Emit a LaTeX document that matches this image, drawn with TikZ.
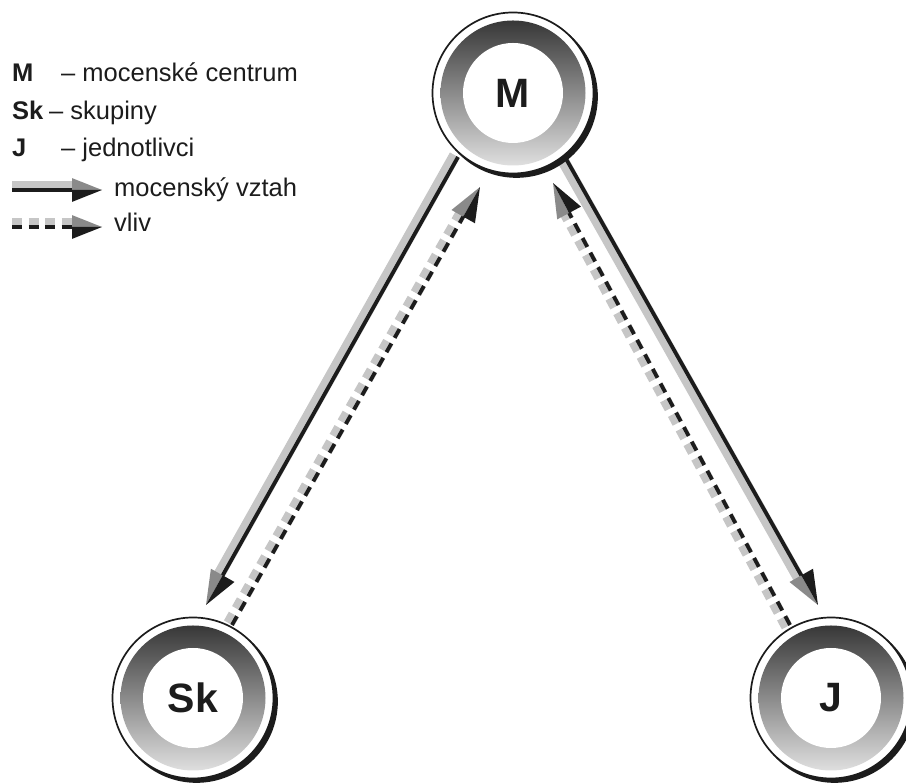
\documentclass[tikz,border=0pt]{standalone}
\usepackage{fontspec}
\setmainfont{Liberation Sans}
\usetikzlibrary{calc,shadows}
\definecolor{band}{HTML}{C6C6C6}
\definecolor{headgray}{HTML}{8A8A8A}
\definecolor{ink}{HTML}{1C1C1C}
\definecolor{ringtop}{HTML}{2E2E2E}
\definecolor{ringbot}{HTML}{E8E8E8}
\pgfdeclarelayer{bg}
\pgfsetlayers{bg,main}
% #1 from, #2 tip, #3 side of grey band (1 or -1), #4 dash style, #5 head scale
\newcommand\relarrow[5]{%
  \pgfpointdiff{\pgfpointanchor{#1}{center}}{\pgfpointanchor{#2}{center}}%
  \pgfgetlastxy\reldx\reldy
  \pgfmathsetmacro\relang{atan2(\reldy,\reldx)}%
  \pgfmathsetmacro\rellen{veclen(\reldx,\reldy)}%
  \pgfmathsetmacro\relhl{34*#5}%
  \pgfmathsetmacro\relhw{13.5*#5}%
  \begin{scope}[shift={(#1)},rotate=\relang]
    \draw[band, line width=11.5pt, #4] (0,#3*3.5) -- (\rellen-\relhl+1,#3*3.5);
    \draw[ink, line width=3.8pt, #4] (0,0) -- (\rellen-\relhl+2,0);
    \fill[headgray] (\rellen,0) -- (\rellen-\relhl,#3*\relhw) -- (\rellen-\relhl,0) -- cycle;
    \fill[ink] (\rellen,0) -- (\rellen-\relhl,-#3*\relhw) -- (\rellen-\relhl,0) -- cycle;
  \end{scope}%
}
\tikzset{
  hub/.style={circle, minimum size=161pt, inner sep=0pt, fill=white, draw=ink, line width=1.7pt,
    general shadow={fill=ink, draw=ink, shadow xshift=3.5pt, shadow yshift=-3.5pt},
    path picture={\shade[top color=ringtop, bottom color=ringbot] (path picture bounding box.center) circle (72.5pt);
      \fill[white] (path picture bounding box.center) circle (50pt);},
    font=\bfseries\fontsize{41}{41}\selectfont, text=ink},
  legtext/.style={anchor=base west, inner sep=0pt, font=\fontsize{25.5}{25.5}\selectfont, text=ink},
  dashy/.style={dash pattern=on 10pt off 6.5pt},
}
\begin{document}
\begin{tikzpicture}[x=1pt,y=1pt]
\useasboundingbox (0,0) rectangle (906,783);
% nodes
\node[hub] (M) at (513,690) {M};
\node[hub] (Sk) at (193,85) {Sk};
\node[hub] (J) at (831,85) {J};
% arrow ends
\coordinate (ls1) at ($(M)+(-55,-64)$);
\coordinate (ls2) at ($(Sk)+(13,93)$);
\coordinate (ld1) at ($(Sk)+(39,73)$);
\coordinate (ld2) at ($(M)+(-33,-94)$);
\coordinate (rs1) at ($(M)+(52,-64)$);
\coordinate (rs2) at ($(J)+(-13,93)$);
\coordinate (rd1) at ($(J)+(-41,73)$);
\coordinate (rd2) at ($(M)+(40,-90)$);
\begin{pgfonlayer}{bg}
\relarrow{ls1}{ls2}{-1}{solid}{1}
\relarrow{ld1}{ld2}{1}{dashy}{1}
\relarrow{rs1}{rs2}{-1}{solid}{1}
\relarrow{rd1}{rd2}{1}{dashy}{1}
\end{pgfonlayer}
% legend
\node[legtext] (kM) at (12,701) {\textbf{M}};
\node[legtext] (dM) at (61,701) {– mocenské centrum};
\node[legtext] (kS) at (12,663) {\textbf{Sk}};
\node[legtext] (dS) at (49,663) {– skupiny};
\node[legtext] (kJ) at (12,626) {\textbf{J}};
\node[legtext] (dJ) at (61,626) {– jednotlivci};
\coordinate (la1) at (12,593);
\coordinate (la2) at (102,593);
\coordinate (lb1) at (12,556);
\coordinate (lb2) at (102,556);
\relarrow{la1}{la2}{1}{solid}{0.88}
\relarrow{lb1}{lb2}{1}{dashy}{0.88}
\node[legtext] (tA) at (114,586) {mocenský vztah};
\node[legtext] (tB) at (114,551) {vliv};
\end{tikzpicture}
\end{document}
